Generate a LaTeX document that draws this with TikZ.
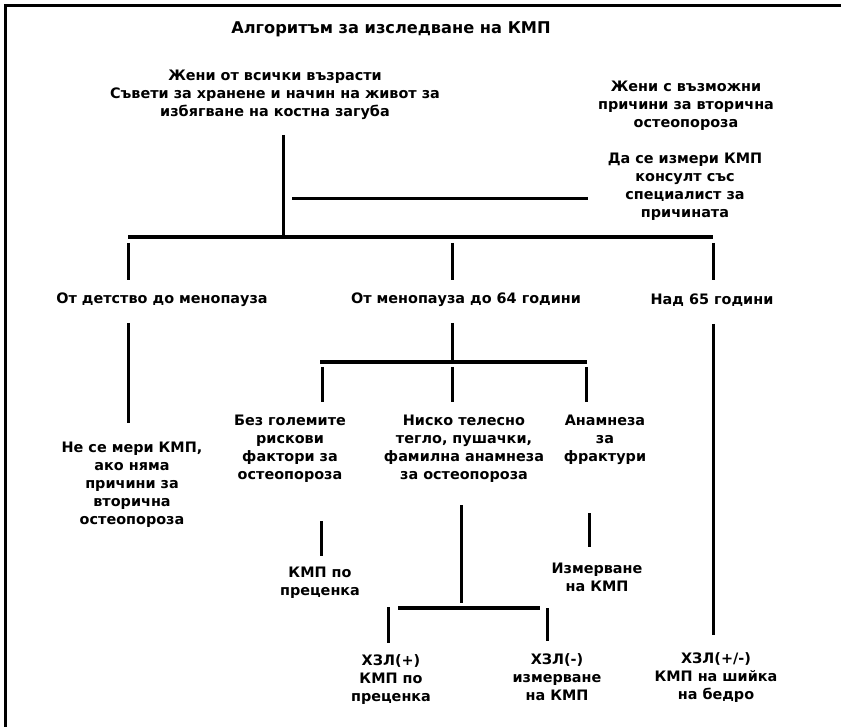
\documentclass[tikz,border=0pt]{standalone}
\usepackage{fontspec}
\setmainfont{DejaVu Sans}
\tikzset{
  lbl/.style={align=center, inner sep=0pt, font=\fontsize{14.4}{18}\bfseries\selectfont},
  ttl/.style={inner sep=0pt, font=\fontsize{16.2}{18}\bfseries\selectfont},
  ln/.style={line width=3pt},
  bus/.style={line width=3.6pt},
}
\begin{document}
\begin{tikzpicture}[x=1pt,y=-1pt]
\useasboundingbox (0,0) rectangle (841,727);
% frame
\draw[line width=3pt] (5,727) -- (5,6) -- (841,6);
% texts
\node[ttl] (title) at (391,29) {Алгоритъм за изследване на КМП};
\node[lbl] (all) at (275,95) {Жени от всички възрасти\\Съвети за хранене и начин на живот за\\избягване на костна загуба};
\node[lbl] (sec) at (686,106) {Жени с възможни\\причини за вторична\\остеопороза};
\node[lbl] (sec2) at (685,186.5) {Да се измери КМП\\консулт със\\специалист за\\причината};
\node[lbl] (age1) at (162,300) {От детство до менопауза};
\node[lbl] (age2) at (466,300) {От менопауза до 64 години};
\node[lbl] (age3) at (712,300) {Над 65 години};
\node[lbl] (no) at (132,484.5) {Не се мери КМП,\\ако няма\\причини за\\вторична\\остеопороза};
\node[lbl] (r1) at (290,449) {Без големите\\рискови\\фактори за\\остеопороза};
\node[lbl] (r2) at (464,449) {Ниско телесно\\тегло, пушачки,\\фамилна анамнеза\\за остеопороза};
\node[lbl] (r3) at (605,440) {Анамнеза\\за\\фрактури};
\node[lbl] (kmp1) at (320,582.5) {КМП по\\преценка};
\node[lbl] (izm) at (597,577) {Измерване\\на КМП};
\node[lbl] (h1) at (391,679.5) {ХЗЛ(+)\\КМП по\\преценка};
\node[lbl] (h2) at (557,677.5) {ХЗЛ(-)\\измерване\\на КМП};
\node[lbl] (h3) at (716,677.5) {ХЗЛ(+/-)\\КМП на шийка\\на бедро};
% junction coordinates
\coordinate (allT) at (283,135);
\coordinate (allB) at (283,237);
\coordinate (secL) at (292,199);
\coordinate (secR) at (588,199);
\coordinate (busL) at (128,237);
\coordinate (busR) at (713,237);
\coordinate (a1T) at (128,243); \coordinate (a1B) at (128,280);
\coordinate (a2T) at (452,243); \coordinate (a2B) at (452,280);
\coordinate (a3T) at (713,243); \coordinate (a3B) at (713,280);
\coordinate (n1T) at (128,323); \coordinate (n1B) at (128,423);
\coordinate (m1T) at (452,323); \coordinate (m1B) at (452,360);
\coordinate (b2L) at (320,362); \coordinate (b2R) at (587,362);
\coordinate (r1T) at (322,367); \coordinate (r1B) at (322,402);
\coordinate (r2T) at (452,367); \coordinate (r2B) at (452,402);
\coordinate (r3T) at (586,367); \coordinate (r3B) at (586,402);
\coordinate (k1T) at (321,521); \coordinate (k1B) at (321,556);
\coordinate (izT) at (589,513); \coordinate (izB) at (589,547);
\coordinate (nsT) at (461,505); \coordinate (nsB) at (461,603);
\coordinate (b3L) at (398,608); \coordinate (b3R) at (540,608);
\coordinate (h1T) at (388,607); \coordinate (h1B) at (388,643);
\coordinate (h2T) at (547,608); \coordinate (h2B) at (547,641);
\coordinate (h3T) at (713,324); \coordinate (h3B) at (713,635);
% lines
\draw[ln] (allT) -- (allB);
\draw[ln] (secL) -- (secR);
\draw[bus] (busL) -- (busR);
\draw[ln] (a1T) -- (a1B);
\draw[ln] (a2T) -- (a2B);
\draw[ln] (a3T) -- (a3B);
\draw[ln] (n1T) -- (n1B);
\draw[ln] (m1T) -- (m1B);
\draw[bus] (b2L) -- (b2R);
\draw[ln] (r1T) -- (r1B);
\draw[ln] (r2T) -- (r2B);
\draw[ln] (r3T) -- (r3B);
\draw[ln] (k1T) -- (k1B);
\draw[ln] (izT) -- (izB);
\draw[ln] (nsT) -- (nsB);
\draw[bus] (b3L) -- (b3R);
\draw[ln] (h1T) -- (h1B);
\draw[ln] (h2T) -- (h2B);
\draw[ln] (h3T) -- (h3B);
\end{tikzpicture}
\end{document}
